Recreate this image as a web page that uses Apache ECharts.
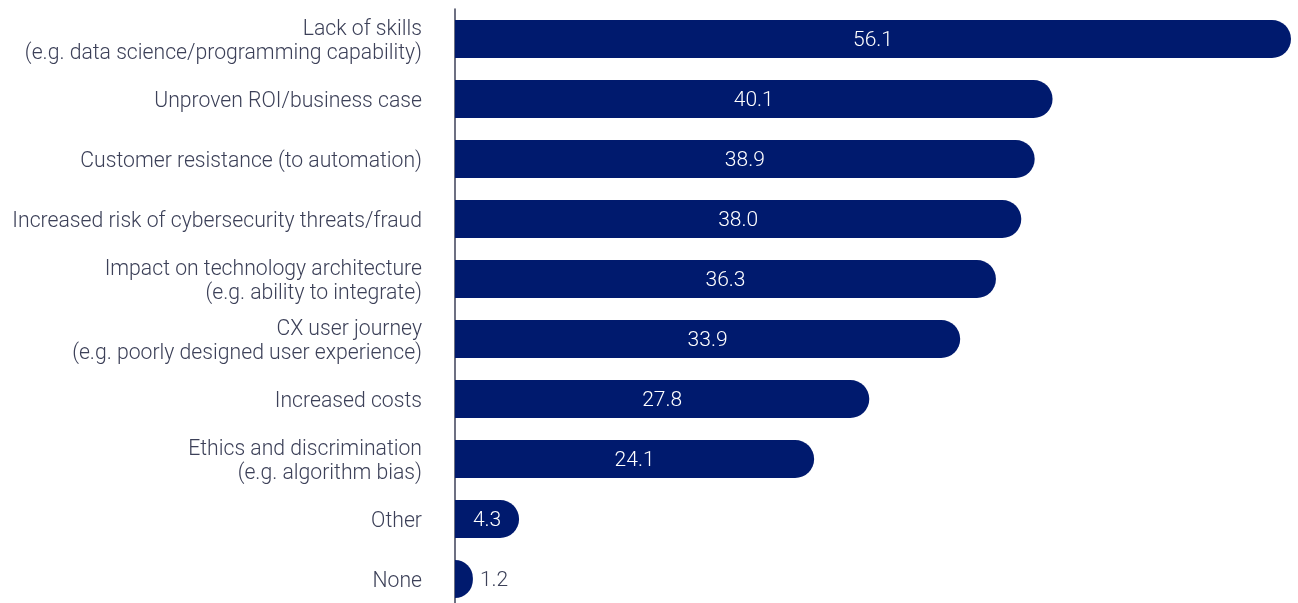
<!DOCTYPE html>
<html><head><meta charset="utf-8">
<script src="https://cdn.jsdelivr.net/npm/echarts@6/dist/echarts.min.js"></script>
<style>html,body{margin:0;padding:0;background:#fff;overflow:hidden}#c{width:1298px;height:609px}</style>
</head><body><div id="c"></div>
<script>
const categories = [
  "Lack of skills\n(e.g. data science/programming capability)",
  "Unproven ROI/business case",
  "Customer resistance (to automation)",
  "Increased risk of cybersecurity threats/fraud",
  "Impact on technology architecture\n(e.g. ability to integrate)",
  "CX user journey\n(e.g. poorly designed user experience)",
  "Increased costs",
  "Ethics and discrimination\n(e.g. algorithm bias)",
  "Other",
  "None"
];
const values = [56.1, 40.1, 38.9, 38.0, 36.3, 33.9, 27.8, 24.1, 4.3, 1.2];
const outsideThreshold = 3;

const chart = echarts.init(document.getElementById('c'), null, {renderer: 'canvas'});
chart.setOption({
  animation: false,
  grid: {left: 455, right: 7, top: 9, bottom: 0, containLabel: false},
  xAxis: {type: 'value', min: 0, max: 56.1, show: false},
  yAxis: {
    type: 'category', data: categories, inverse: true,
    axisLine: {show: true, lineStyle: {color: '#3c4058', width: 1.5}},
    axisTick: {show: false},
    axisLabel: {
      color: '#3c4058', fontFamily: 'Roboto', fontWeight: 300, fontSize: 21.2, margin: 33, align: 'right',
      formatter: v => v.split('\n').map(s => '{a|' + s + '}').join('\n'),
      rich: {a: {color: '#3c4058', fontFamily: 'Roboto', fontWeight: 300, fontSize: 21.2, lineHeight: 24, padding: [6, 0, 0, 0], align: 'right'}}
    }
  },
  series: [{
    type: 'bar', barWidth: 38,
    data: values.map(v => ({
      value: v,
      label: v < outsideThreshold
        ? {position: 'right', distance: 7, color: '#3c4058'}
        : {position: 'inside', color: '#ffffff'}
    })),
    itemStyle: {color: '#001a6e', borderRadius: [0, 19, 19, 0]},
    label: {show: true, fontFamily: 'Roboto', fontWeight: 300, fontSize: 21, offset: [0, 2],
      formatter: p => p.value.toFixed(1)}
  }]
});
</script></body></html>
